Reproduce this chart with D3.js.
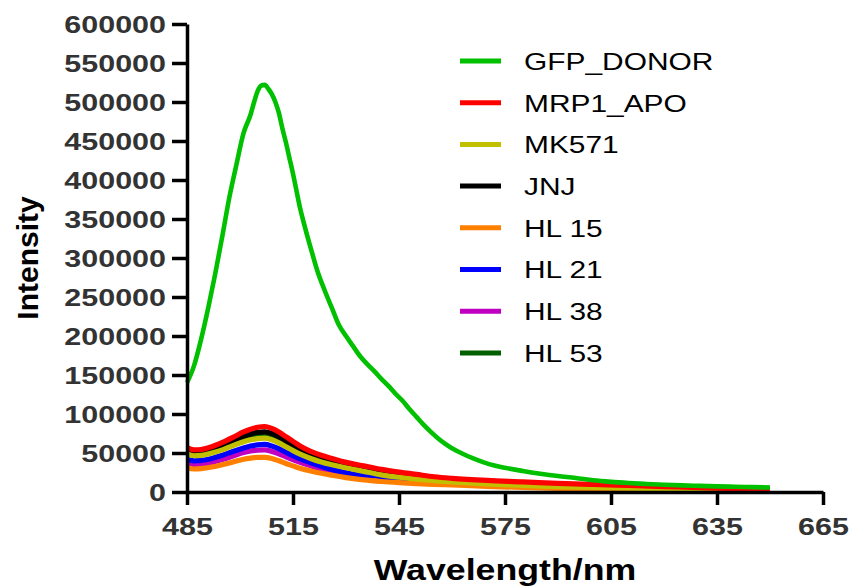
<!DOCTYPE html>
<html>
<head>
<meta charset="utf-8">
<script src="https://cdn.jsdelivr.net/npm/d3@7/dist/d3.min.js"></script>
<style>
  body { margin: 0; background: #fff; }
  text { font-family: "Liberation Sans", Arial, sans-serif; }
</style>
</head>
<body>
<script>
// series names + colours, same order as the legend
var seriesNames = ['GFP_DONOR', 'MRP1_APO', 'MK571', 'JNJ', 'HL 15', 'HL 21', 'HL 38', 'HL 53'];
var seriesColors = ['#00c000', '#ff0000', '#c0c000', '#000000', '#ff8000', '#0000ff', '#c000c0', '#006000'];

var xTicks = [485, 515, 545, 575, 605, 635, 665];
var yTicks = [0, 50000, 100000, 150000, 200000, 250000, 300000, 350000, 400000, 450000, 500000, 550000, 600000];

// GFP donor emission
var gfpWl = [485, 487, 489, 491, 493, 495, 497, 499, 501, 503, 504, 505, 506, 507, 508, 509, 510, 511, 512, 513,
  514, 515, 516, 517, 518, 519, 520, 522, 524, 526, 528, 530, 532, 534, 536, 538, 540, 542, 544, 546, 548, 550,
  552, 554, 556, 558, 560, 563, 566, 569, 572, 575, 580, 585, 590, 595, 600, 605, 610, 615, 620, 625, 630, 635,
  640, 645, 650];
var gfpDonor = [140000, 162000, 196000, 236000, 280000, 328000, 378000, 420000, 460000, 484000, 500000, 514000,
  521000, 522000, 517000, 510000, 500000, 486000, 466000, 448000, 428000, 408000, 386000, 364000, 346000, 329000,
  313000, 282000, 258000, 236000, 214000, 200000, 187000, 174000, 164000, 155000, 145000, 136000, 126000, 117000,
  106000, 96000, 86000, 77000, 69000, 62000, 56000, 49000, 43000, 38000, 34000, 31000, 27000, 23500, 20500, 18000,
  15000, 13000, 11500, 10300, 9300, 8500, 7800, 7200, 6700, 6200, 5800];

// the quenched samples share one wavelength grid
var wl = [485, 487, 489, 492, 495, 498, 501, 503, 505, 507, 509, 511, 513, 515, 517, 520, 523, 526, 530, 535,
  540, 545, 550, 555, 560, 570, 580, 590, 600, 610, 620, 630, 640, 650];
var mrp1Apo = [57000, 54000, 54500, 58000, 63500, 70000, 77000, 80500, 83000, 84000, 81500, 77000, 71000, 65000,
  59000, 52000, 47000, 43000, 38000, 33500, 29000, 25500, 22500, 19500, 17500, 14800, 13000, 11000, 9600, 8300,
  7000, 5500, 4300, 3500];
var mk571 = [49000, 46500, 47000, 50000, 54000, 59500, 64500, 67000, 68500, 69000, 67000, 63000, 58000, 53000,
  48500, 43000, 38500, 35000, 31000, 26500, 22000, 19000, 16500, 14500, 13000, 10500, 8500, 7000, 5800, 4800,
  4000, 3200, 2600, 2200];
var jnj = [53000, 50000, 51000, 54000, 59000, 65000, 71000, 74500, 76500, 77000, 75000, 70500, 65000, 59500,
  54000, 47500, 42500, 38500, 34000, 29500, 25500, 22500, 19500, 17000, 15000, 12000, 10000, 8300, 7000, 5800,
  4800, 3800, 3000, 2500];
var hl15 = [31000, 29500, 30000, 32000, 35000, 38500, 42000, 43500, 44500, 44500, 43000, 40000, 36500, 33500,
  30500, 27000, 24000, 21500, 18500, 15500, 13500, 12000, 10800, 9800, 9000, 7300, 5800, 4600, 3700, 3000,
  2500, 2000, 1700, 1400];
var hl21 = [42000, 40000, 40500, 43000, 47000, 52000, 56500, 59000, 60500, 61000, 59000, 55500, 51000, 46500,
  42500, 37500, 33000, 29000, 24500, 20500, 17500, 15200, 13800, 12800, 11800, 9500, 7500, 6000, 4800, 4000,
  3300, 2700, 2200, 1800];
var hl38 = [36500, 35000, 35500, 38000, 41500, 46000, 50500, 52500, 53500, 54000, 52000, 49000, 45000, 41500,
  38000, 33500, 29500, 26000, 22500, 19000, 16500, 14500, 13000, 12000, 11000, 9000, 7200, 5800, 4600, 3800,
  3100, 2500, 2000, 1600];
var hl53 = [50000, 47500, 48000, 51500, 56000, 62000, 68000, 71000, 73000, 73500, 71500, 67000, 61500, 56000,
  51000, 45000, 40000, 36500, 32000, 27500, 23000, 20000, 17000, 15000, 13500, 11000, 9000, 7300, 6000, 5000,
  4200, 3400, 2800, 2300];

var W = 851, H = 587;

var svg = d3.select('body').append('svg')
  .attr('width', W)
  .attr('height', H);

var x = d3.scaleLinear().domain([485, 665]).range([187, 823]);
var y = d3.scaleLinear().domain([0, 600000]).range([492, 24]);

var series = [
  { name: seriesNames[0], color: seriesColors[0], pts: d3.zip(gfpWl, gfpDonor) },
  { name: seriesNames[1], color: seriesColors[1], pts: d3.zip(wl, mrp1Apo) },
  { name: seriesNames[2], color: seriesColors[2], pts: d3.zip(wl, mk571) },
  { name: seriesNames[3], color: seriesColors[3], pts: d3.zip(wl, jnj) },
  { name: seriesNames[4], color: seriesColors[4], pts: d3.zip(wl, hl15) },
  { name: seriesNames[5], color: seriesColors[5], pts: d3.zip(wl, hl21) },
  { name: seriesNames[6], color: seriesColors[6], pts: d3.zip(wl, hl38) },
  { name: seriesNames[7], color: seriesColors[7], pts: d3.zip(wl, hl53) }
];

var line = d3.line()
  .x(function(d) { return x(d[0]); })
  .y(function(d) { return y(d[1]); })
  .curve(d3.curveMonotoneX);

// first data set ends up in front, so draw them back to front
svg.append('g').selectAll('path')
  .data(series.slice().reverse())
  .enter().append('path')
  .attr('d', function(d) { return line(d.pts); })
  .attr('fill', 'none')
  .attr('stroke', function(d) { return d.color; })
  .attr('stroke-width', function(d) { return d.name === 'GFP_DONOR' ? 4.6 : 5.2; })
  .attr('stroke-linejoin', 'round');

// axes
var yAxis = svg.append('g')
  .attr('transform', 'translate(187,0)')
  .call(d3.axisLeft(y).tickValues(yTicks).tickSize(15).tickSizeOuter(0).tickPadding(6)
    .tickFormat(d3.format('d')));

var xAxis = svg.append('g')
  .attr('transform', 'translate(0,492)')
  .call(d3.axisBottom(x).tickValues(xTicks).tickSize(13).tickSizeOuter(0).tickPadding(13));

[yAxis, xAxis].forEach(function(ax) {
  ax.select('.domain').attr('stroke', '#000').attr('stroke-width', 3.5);
  ax.selectAll('.tick line').attr('stroke', '#000').attr('stroke-width', 3.5);
  ax.selectAll('.tick text')
    .attr('fill', '#333')
    .style('font-family', '"Liberation Sans", Arial, sans-serif')
    .style('font-size', '24px')
    .style('font-weight', 'bold')
    .classed('stretch-tick', true);
});
yAxis.selectAll('.tick text').attr('dy', '0.36em');

// axis titles
svg.append('text')
  .attr('x', 505)
  .attr('y', 580)
  .attr('text-anchor', 'middle')
  .style('font-size', '30px')
  .style('font-weight', 'bold')
  .attr('fill', '#000')
  .classed('stretch-title', true)
  .text('Wavelength/nm');

svg.append('text')
  .attr('transform', 'translate(37.5,258) rotate(-90)')
  .attr('text-anchor', 'middle')
  .style('font-size', '30px')
  .style('font-weight', 'bold')
  .attr('fill', '#000')
  .text('Intensity');

// legend
var legend = svg.append('g').selectAll('g')
  .data(series)
  .enter().append('g')
  .attr('transform', function(d, i) { return 'translate(460,' + (61 + i * 41.7) + ')'; });

legend.append('line')
  .attr('x1', 0).attr('x2', 41)
  .attr('stroke', function(d) { return d.color; })
  .attr('stroke-width', 5);

legend.append('text')
  .attr('x', 64)
  .attr('dy', '0.36em')
  .style('font-size', '24.5px')
  .attr('fill', '#000')
  .classed('stretch-legend', true)
  .text(function(d) { return d.name; });

// the original lettering is wider than Arial, widen glyphs to match
function widen(sel, k) {
  sel.each(function() {
    var w = this.getComputedTextLength();
    d3.select(this).attr('textLength', w * k).attr('lengthAdjust', 'spacingAndGlyphs');
  });
}
widen(svg.selectAll('.stretch-tick'), 1.27);
widen(svg.selectAll('.stretch-legend'), 1.22);
widen(svg.selectAll('.stretch-title'), 1.19);
</script>
</body>
</html>
